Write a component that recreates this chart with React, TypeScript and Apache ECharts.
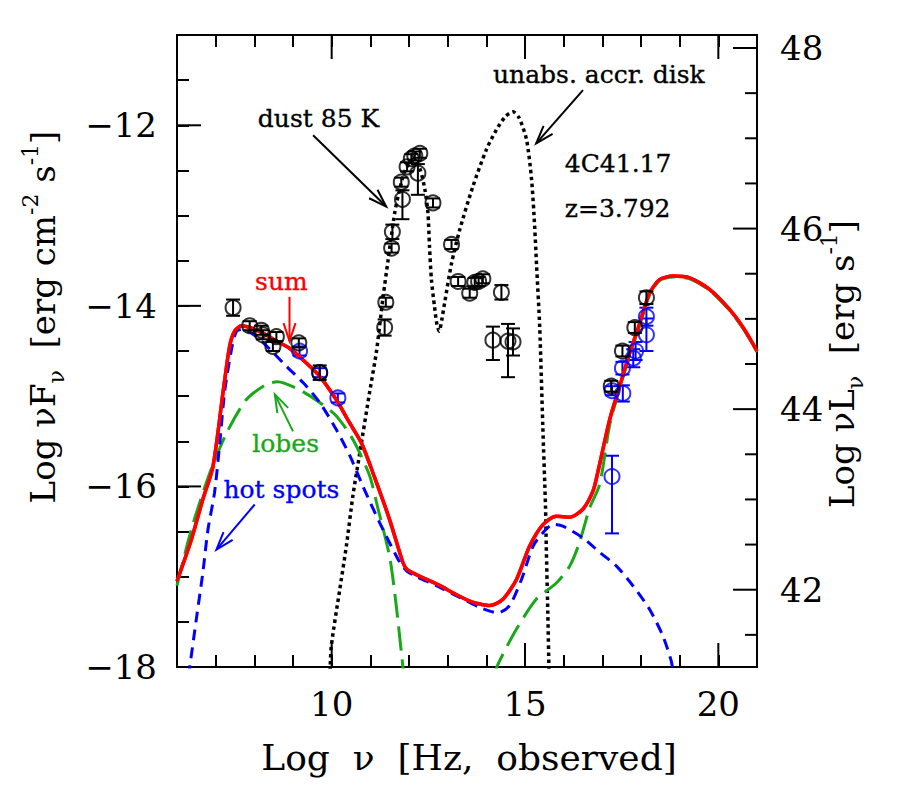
import React, { useEffect, useRef } from "react";
import * as echarts from "echarts";

const FONT = "'DejaVu Serif', 'Liberation Serif', serif";
const RED = "#ff0000";
const BLUE = "#0000ff";
const GREEN = "#1aa81a";
const BLACK = "#000000";

const X_MIN = 6;
const X_MAX = 21;
const Y_MIN = -18;
const Y_MAX = -11;
// log nuL_nu - log nuF_nu (4 pi d_L^2 at z = 3.792)
const LUM_OFFSET = 59.144;

const xLabelTicks = [10, 15, 20];
const yLabelTicks = [-18, -16, -14, -12];
const rightLabelTicks = [42, 44, 46, 48];
const rightMinorTicks = [41.5, 42.5, 43, 43.5, 44.5, 45, 45.5, 46.5, 47, 47.5];

// model curves [log nu, log nuFnu]
const sumCurve = [
  [6.0, -17.05], [6.37, -16.59], [6.67, -16.14], [6.93, -15.78], [7.19, -14.96],
  [7.36, -14.45], [7.49, -14.28], [7.67, -14.22], [7.88, -14.24], [8.22, -14.3],
  [8.57, -14.39], [8.91, -14.47], [9.26, -14.6], [9.69, -14.78], [10.12, -15.04],
  [10.47, -15.3], [10.77, -15.52], [11.11, -15.9], [11.5, -16.37], [11.84, -16.84],
  [11.95, -16.92], [12.2, -16.98], [12.71, -17.08], [13.57, -17.27], [14.09, -17.32],
  [14.43, -17.25], [14.78, -17.03], [15.12, -16.66], [15.47, -16.42], [15.81, -16.33],
  [16.16, -16.34], [16.5, -16.25], [16.76, -16.05], [16.88, -15.85], [17.19, -15.26],
  [17.45, -14.89], [17.71, -14.52], [17.97, -14.19], [18.22, -13.86], [18.48, -13.71],
  [18.83, -13.67], [19.26, -13.69], [19.78, -13.82], [20.29, -14.04], [20.64, -14.24],
  [21.0, -14.5],
];

const hotSpotsCurve = [
  [6.3, -18.1], [6.33, -18.0], [6.5, -17.47], [6.67, -16.95], [6.8, -16.48],
  [6.97, -16.07], [7.1, -15.55], [7.23, -14.96], [7.41, -14.48], [7.54, -14.28],
  [7.71, -14.26], [8.05, -14.34], [8.4, -14.48], [8.83, -14.67], [9.26, -14.85],
  [9.69, -15.07], [10.12, -15.37], [10.47, -15.66], [10.81, -16.0], [11.24, -16.4],
  [11.76, -16.84], [11.95, -16.94], [12.2, -17.0], [12.71, -17.1], [13.31, -17.23],
  [13.83, -17.34], [14.3, -17.4], [14.6, -17.32], [14.91, -17.03], [15.21, -16.66],
  [15.47, -16.51], [15.72, -16.42], [15.98, -16.44], [16.5, -16.57], [16.93, -16.73],
  [17.36, -16.88], [17.79, -17.1], [18.22, -17.36], [18.57, -17.66], [18.78, -17.93],
  [18.83, -18.05],
];

const lobesCurve = [
  [6.0, -17.1], [6.07, -16.97], [6.41, -16.42], [6.85, -15.85], [7.28, -15.41],
  [7.79, -15.04], [8.31, -14.87], [8.6, -14.84], [9.17, -14.93], [9.69, -15.07],
  [10.12, -15.22], [10.55, -15.48], [10.98, -15.88], [11.2, -16.25], [11.5, -16.78],
  [11.67, -17.32], [11.84, -17.99], [11.87, -18.1], [13.0, null],
  [14.2, -18.1], [14.3, -17.97], [14.78, -17.58], [15.29, -17.25], [15.81, -17.07],
  [16.16, -16.88], [16.41, -16.62], [16.67, -16.24], [16.93, -15.98], [17.19, -15.32],
  [17.45, -14.91], [17.71, -14.54], [17.97, -14.21], [18.22, -13.88], [18.48, -13.72],
  [18.83, -13.68], [19.26, -13.7], [19.78, -13.83], [20.29, -14.05], [20.64, -14.25],
  [21.0, -14.51],
];

const dustDiskCurve = [
  [9.96, -18.05], [9.99, -17.77], [10.21, -17.14], [10.38, -16.66], [10.55, -16.1],
  [10.72, -15.65], [10.98, -14.96], [11.16, -14.5], [11.33, -13.9], [11.46, -13.49],
  [11.63, -12.97], [11.76, -12.71], [11.9, -12.5], [12.1, -12.38], [12.28, -12.48],
  [12.41, -12.71], [12.49, -12.97], [12.53, -13.34], [12.58, -13.71], [12.66, -14.01],
  [12.72, -14.2], [12.78, -14.28], [12.85, -14.15], [12.92, -13.97], [13.1, -13.53],
  [13.31, -13.16], [13.65, -12.68], [14.0, -12.27], [14.26, -12.05], [14.5, -11.9],
  [14.69, -11.85], [14.85, -11.92], [15.04, -12.16], [15.17, -12.6], [15.25, -13.12],
  [15.3, -13.56], [15.38, -14.23], [15.46, -15.33], [15.53, -16.22], [15.55, -16.66],
  [15.59, -17.4], [15.62, -18.05],
];

// observed points [log nu, log nuFnu, err down, err up]
const blackPoints = [
  [7.45, -14.02, 0.09, 0.09], [7.88, -14.22, 0.05, 0.05], [8.18, -14.27, 0.05, 0.05],
  [8.22, -14.32, 0.05, 0.05], [8.57, -14.34, 0.05, 0.05], [8.48, -14.45, 0.05, 0.05],
  [9.15, -14.41, 0.05, 0.05], [9.69, -14.74, 0.08, 0.08],
  [11.37, -14.24, 0.09, 0.09], [11.4, -13.96, 0.05, 0.05], [11.55, -13.36, 0.05, 0.05],
  [11.57, -13.18, 0.08, 0.08], [11.83, -12.82, 0.22, 0.1], [11.8, -12.63, 0.05, 0.05],
  [11.95, -12.46, 0.05, 0.05], [12.06, -12.37, 0.05, 0.05], [12.15, -12.34, 0.05, 0.05],
  [12.28, -12.31, 0.05, 0.05], [12.23, -12.53, 0.24, 0.1], [12.62, -12.86, 0.05, 0.05],
  [13.1, -13.32, 0.05, 0.05], [13.27, -13.73, 0.05, 0.05], [13.57, -13.86, 0.05, 0.05],
  [13.7, -13.74, 0.05, 0.05], [13.8, -13.73, 0.05, 0.05], [13.91, -13.7, 0.05, 0.05],
  [14.39, -13.85, 0.08, 0.08], [14.17, -14.38, 0.22, 0.15], [14.56, -14.39, 0.4, 0.19],
  [14.69, -14.4, 0.15, 0.15],
  [17.23, -14.89, 0.06, 0.06], [17.52, -14.5, 0.06, 0.06], [17.84, -14.24, 0.06, 0.06],
  [18.14, -13.91, 0.07, 0.07],
];

const bluePoints = [
  [9.17, -14.5, 0.05, 0.05], [9.69, -14.74, 0.05, 0.05], [10.16, -15.02, 0.05, 0.05],
  [17.25, -14.94, 0.05, 0.05], [17.53, -14.97, 0.09, 0.09], [17.52, -14.69, 0.07, 0.07],
  [17.8, -14.58, 0.1, 0.1], [17.86, -14.5, 0.1, 0.1], [18.14, -14.12, 0.1, 0.1],
  [18.14, -14.32, 0.18, 0.18], [17.25, -15.89, 0.63, 0.23],
];

// annotations, in data coordinates
const annotations = [
  { text: "dust 85 K", color: BLACK, at: [9.66, -11.92], align: "center", from: [9.52, -12.11], to: [11.41, -12.9] },
  { text: "unabs. accr. disk", color: BLACK, at: [16.91, -11.44], align: "center", from: [16.5, -11.61], to: [15.29, -12.2] },
  { text: "4C41.17", color: BLACK, at: [16.03, -12.42], align: "left" },
  { text: "z=3.792", color: BLACK, at: [16.03, -12.92], align: "left" },
  { text: "sum", color: RED, at: [8.7, -13.73], align: "center", from: [8.91, -13.9], to: [8.91, -14.39] },
  { text: "lobes", color: GREEN, at: [8.81, -15.52], align: "center", from: [9.0, -15.39], to: [8.53, -14.98] },
  { text: "hot spots", color: BLUE, at: [8.7, -16.03], align: "center", from: [8.01, -16.2], to: [7.02, -16.7] },
];

const near = (v: number, list: number[]) => list.some((t) => Math.abs(v - t) < 1e-6);
const fmtNum = (v: number) => (v < 0 ? "\u2212" + Math.abs(Math.round(v)) : String(Math.round(v)));

function majorTickItem(params: any, api: any) {
  const cs = params.coordSys;
  const side = api.value(0);
  const v = api.value(1);
  const L = 24;
  let shape;
  if (side === 0) {
    const px = api.coord([v, Y_MIN])[0];
    shape = { x1: px, y1: cs.y + cs.height, x2: px, y2: cs.y + cs.height - L };
  } else if (side === 1) {
    const px = api.coord([v, Y_MIN])[0];
    shape = { x1: px, y1: cs.y, x2: px, y2: cs.y + L };
  } else {
    const py = api.coord([X_MIN, v])[1];
    shape = { x1: cs.x, y1: py, x2: cs.x + L, y2: py };
  }
  return { type: "line", shape, style: { stroke: BLACK, lineWidth: 2 } };
}

function rightTickItem(params: any, api: any) {
  const cs = params.coordSys;
  const v = api.value(1);
  const len = api.value(2);
  const py = api.coord([X_MAX, v])[1];
  const xr = cs.x + cs.width;
  return { type: "line", shape: { x1: xr, y1: py, x2: xr - len, y2: py }, style: { stroke: BLACK, lineWidth: 2 } };
}

function errorBarItem(color: string) {
  return (params: any, api: any) => {
    const x = api.value(0);
    const y = api.value(1);
    const lo = api.coord([x, y - api.value(2)]);
    const hi = api.coord([x, y + api.value(3)]);
    const w = 7;
    const st = { stroke: color, lineWidth: 2 };
    return {
      type: "group",
      children: [
        { type: "line", shape: { x1: lo[0], y1: lo[1], x2: hi[0], y2: hi[1] }, style: st },
        { type: "line", shape: { x1: lo[0] - w, y1: lo[1], x2: lo[0] + w, y2: lo[1] }, style: st },
        { type: "line", shape: { x1: hi[0] - w, y1: hi[1], x2: hi[0] + w, y2: hi[1] }, style: st },
      ],
    };
  };
}

export default function App() {
  const ref = useRef<HTMLDivElement>(null);
  useEffect(() => {
    document.body.style.margin = "0";
    const chart = echarts.init(ref.current!, null, { renderer: "svg" });

    const tickStyle = { inside: true, length: 12, lineStyle: { color: BLACK, width: 2 } };
    const labelBase = { fontFamily: FONT, fontSize: 34, color: BLACK };

    const lineSeries = (name: string, data: any[], color: string, width: number, type: any) => ({
      name,
      type: "line",
      data,
      showSymbol: false,
      smooth: 0.25,
      connectNulls: false,
      silent: true,
      lineStyle: { color, width, type, cap: "butt" },
    });

    const option: any = {
      animation: false,
      backgroundColor: "#ffffff",
      grid: { left: 177, right: 143, top: 35, bottom: 132, show: true, borderColor: BLACK, borderWidth: 2, backgroundColor: "transparent" },
      xAxis: [
        {
          type: "value", min: X_MIN, max: X_MAX, interval: 1, position: "bottom",
          axisLine: { show: false }, axisTick: tickStyle, splitLine: { show: false },
          axisLabel: { ...labelBase, margin: 20, formatter: (v: number) => (near(v, xLabelTicks) ? fmtNum(v) : "") },
        },
        {
          type: "value", min: X_MIN, max: X_MAX, interval: 1, position: "top",
          axisLine: { show: false }, axisTick: tickStyle, splitLine: { show: false }, axisLabel: { show: false },
        },
      ],
      yAxis: [
        {
          type: "value", min: Y_MIN, max: Y_MAX, interval: 0.5, position: "left",
          axisLine: { show: false }, axisTick: tickStyle, splitLine: { show: false },
          axisLabel: { ...labelBase, margin: 20, formatter: (v: number) => (near(v, yLabelTicks) ? fmtNum(v) : "") },
        },
        {
          type: "value", min: Y_MIN + LUM_OFFSET, max: Y_MAX + LUM_OFFSET, splitNumber: 3, position: "right",
          axisLine: { show: false }, axisTick: { show: false }, splitLine: { show: false },
          axisLabel: { ...labelBase, margin: 23, formatter: (v: number) => (near(v, rightLabelTicks) ? fmtNum(v) : "") },
        },
      ],
      series: [
        lineSeries("sum", sumCurve, RED, 3.5, "solid"),
        lineSeries("dust + disk", dustDiskCurve, BLACK, 3.5, [3.5, 3.5]),
        lineSeries("lobes", lobesCurve, GREEN, 3, [24, 9]),
        lineSeries("hot spots", hotSpotsCurve, BLUE, 3, [11, 7]),
        lineSeries("sum ", sumCurve, RED, 3.5, "solid"),
        {
          type: "custom", name: "blue errors", silent: true, renderItem: errorBarItem(BLUE),
          data: bluePoints, encode: { x: 0, y: 1 }, z: 3,
        },
        {
          type: "scatter", name: "blue points", silent: true, symbol: "circle", symbolSize: 15,
          data: bluePoints.map((p) => [p[0], p[1]]),
          itemStyle: { color: "rgba(0,0,0,0)", borderColor: BLUE, borderWidth: 2 }, z: 3,
        },
        {
          type: "custom", name: "black errors", silent: true, renderItem: errorBarItem(BLACK),
          data: blackPoints, encode: { x: 0, y: 1 }, z: 4,
        },
        {
          type: "scatter", name: "black points", silent: true, symbol: "circle", symbolSize: 15,
          data: blackPoints.map((p) => [p[0], p[1]]),
          itemStyle: { color: "rgba(0,0,0,0)", borderColor: BLACK, borderWidth: 2 }, z: 4,
        },
        {
          type: "custom", name: "major ticks", silent: true, renderItem: majorTickItem, z: 5,
          data: [
            ...xLabelTicks.map((v) => [0, v]),
            ...xLabelTicks.map((v) => [1, v]),
            ...yLabelTicks.filter((v) => v > Y_MIN).map((v) => [2, v]),
          ],
        },
        {
          type: "custom", name: "right ticks", silent: true, renderItem: rightTickItem, yAxisIndex: 1, z: 5,
          encode: { x: 0, y: 1 },
          data: [
            ...rightLabelTicks.map((v) => [X_MAX, v, 24]),
            ...rightMinorTicks.map((v) => [X_MAX, v, 12]),
          ],
        },
      ],
    };

    chart.setOption(option);

    const toPx = (p: number[]) => chart.convertToPixel({ seriesIndex: 0 }, p) as number[];
    const graphics: any[] = [];
    const annFont = 25;
    annotations.forEach((a) => {
      const p = toPx(a.at);
      graphics.push({
        type: "text", x: p[0], y: p[1], silent: true,
        style: {
          text: a.text, fontFamily: FONT, fontSize: annFont, fill: a.color,
          stroke: a.color, lineWidth: 0.35, align: a.align, verticalAlign: "middle",
        },
      });
      if (a.from && a.to) {
        const f = toPx(a.from);
        const t = toPx(a.to);
        const dx = t[0] - f[0];
        const dy = t[1] - f[1];
        const n = Math.hypot(dx, dy);
        const ux = dx / n;
        const uy = dy / n;
        const L = 18;
        const W = 6;
        const st = { stroke: a.color, lineWidth: 2, fill: "none" };
        graphics.push({ type: "line", silent: true, shape: { x1: f[0], y1: f[1], x2: t[0], y2: t[1] }, style: st });
        graphics.push({
          type: "polyline", silent: true,
          shape: {
            points: [
              [t[0] - ux * L - uy * W, t[1] - uy * L + ux * W],
              [t[0], t[1]],
              [t[0] - ux * L + uy * W, t[1] - uy * L - ux * W],
            ],
          },
          style: st,
        });
      }
    });

    const supSub = {
      sub: { fontFamily: FONT, fontSize: 22, lineHeight: 22, verticalAlign: "bottom", fill: BLACK },
      sup: { fontFamily: FONT, fontSize: 22, lineHeight: 22, verticalAlign: "top", fill: BLACK },
    };
    graphics.push({
      type: "text", x: 469, y: 757, silent: true,
      style: { text: "Log  \u03bd  [Hz,  observed]", fontFamily: FONT, fontSize: 36, fill: BLACK, align: "center", verticalAlign: "middle" },
    });
    graphics.push({
      type: "text", x: 43, y: 317, rotation: Math.PI / 2, silent: true,
      style: {
        text: "Log \u03bdF{sub|\u03bd}  [erg cm{sup|-2} s{sup|-1}]",
        fontFamily: FONT, fontSize: 34, lineHeight: 48, fill: BLACK, align: "center", verticalAlign: "middle", rich: supSub,
      },
    });
    graphics.push({
      type: "text", x: 842, y: 364, rotation: Math.PI / 2, silent: true,
      style: {
        text: "Log \u03bdL{sub|\u03bd}  [erg s{sup|-1}]",
        fontFamily: FONT, fontSize: 34, lineHeight: 48, fill: BLACK, align: "center", verticalAlign: "middle", rich: supSub,
      },
    });

    chart.setOption({ graphic: graphics });

    return () => chart.dispose();
  }, []);
  return <div ref={ref} style={{ width: 900, height: 799 }} />;
}
